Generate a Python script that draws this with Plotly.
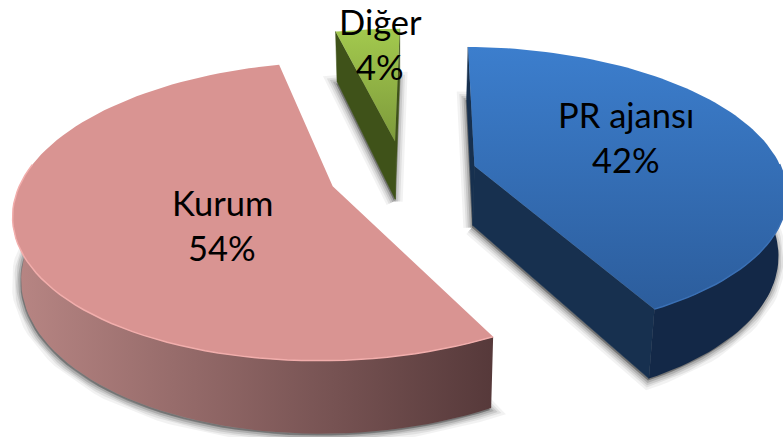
import numpy as np
import plotly.graph_objects as go

categories = ["PR ajansı", "Kurum", "Diğer"]
values = [42, 54, 4]

# pie drawing style
top_colors = [("#3c7ecd", "#2c5d9c"), ("#d99492", "#d99492"), ("#a3c94e", "#7d9a3b")]
wall_colors = [("#132847", "#132847"), ("#b88684", "#56393a"), ("#3f5219", "#3f5219")]
cut_colors = ["#17304f", "#5a3a3a", "#3f5219"]
rim_colors = ["#3a70b5", "#f2aeac", "#a3c94e"]
label_angle = [67, 232, 356]
label_radius = [0.565, 0.415, 0.85]

START = 0.8
CX, CY, R, TILT, PERSP, PULL, DEPTH, SHRINK = 403, 174, 309, 0.457, 0.165, 0.24, 60, 0.978
W, H = 783, 437


def project(X, Y, drop=False):
    X, Y = np.asarray(X, float), np.asarray(Y, float)
    w = 1 + PERSP * Y
    px = CX + R * X / w
    py = CY - R * TILT * Y / w
    if drop:
        px = CX + SHRINK * (px - CX)
        py = py + DEPTH / w
    return px, py


def sector(a0, a1, n=90):
    th = np.radians(np.linspace(a0, a1, n))
    return np.sin(th), np.cos(th)


def poly(x, y, **kw):
    return go.Scatter(x=x, y=y, mode="lines", fill="toself", hoverinfo="skip",
                      showlegend=False, **kw)


def close(a):
    return np.append(a, a[0])


total = sum(values)
angles = np.cumsum([0] + values) / total * 360 + START

slices = []
for i in range(len(values)):
    a0, a1 = angles[i], angles[i + 1]
    mid = np.radians((a0 + a1) / 2)
    ox, oy = PULL * np.sin(mid), PULL * np.cos(mid)
    ax, ay = sector(a0, a1)
    wx = np.concatenate([[ox], ox + ax])
    wy = np.concatenate([[oy], oy + ay])
    slices.append(dict(ox=ox, oy=oy, ax=ox + ax, ay=oy + ay, wx=wx, wy=wy, mid=mid))

fig = go.Figure()

# soft shadows under each slice
for s in slices:
    bx, by = project(s["wx"], s["wy"], drop=True)
    for width, alpha in [(17, 0.05), (12, 0.07), (8, 0.10), (4, 0.14)]:
        fig.add_trace(poly(close(bx) - 1, close(by) + 2,
                           line=dict(color=f"rgba(0,0,0,{alpha})", width=width),
                           fillcolor=f"rgba(0,0,0,{alpha})"))

# walls
for i, s in enumerate(slices):
    if i != 1:
        for ex, ey in [(s["ax"][0], s["ay"][0]), (s["ax"][-1], s["ay"][-1])]:
            x0, y0 = project([s["ox"], ex], [s["oy"], ey])
            x1, y1 = project([s["ox"], ex], [s["oy"], ey], drop=True)
            fig.add_trace(poly(close(np.r_[x0, x1[::-1]]), close(np.r_[y0, y1[::-1]]),
                               line=dict(color=cut_colors[i], width=0.5),
                               fillcolor=cut_colors[i]))
    mask = (s["ay"] < 0.1)
    if mask.sum() > 1:
        x0, y0 = project(s["ax"][mask], s["ay"][mask])
        x1, y1 = project(s["ax"][mask], s["ay"][mask], drop=True)
        c0, c1 = wall_colors[i]
        fig.add_trace(poly(close(np.r_[x0, x1[::-1]]), close(np.r_[y0, y1[::-1]]),
                           line=dict(color="rgba(0,0,0,0)", width=0),
                           fillgradient=dict(type="horizontal",
                                             colorscale=[[0, c0], [1, c1]])))

# top faces
for i, s in enumerate(slices):
    tx, ty = project(s["wx"], s["wy"])
    c0, c1 = top_colors[i]
    fig.add_trace(poly(close(tx), close(ty),
                       line=dict(color="rgba(0,0,0,0)", width=0),
                       fillgradient=dict(type="vertical",
                                         colorscale=[[0, c1], [1, c0]])))
    mask = s["ay"] < 0.1
    if mask.sum() > 1:
        rx, ry = project(s["ax"][mask], s["ay"][mask])
        fig.add_trace(go.Scatter(x=rx, y=ry, mode="lines", hoverinfo="skip", showlegend=False,
                                 line=dict(color=rim_colors[i], width=1.5)))

# labels
for i, s in enumerate(slices):
    la = np.radians(label_angle[i])
    lx = s["ox"] + label_radius[i] * np.sin(la)
    ly = s["oy"] + label_radius[i] * np.cos(la)
    px, py = project([lx], [ly])
    fig.add_annotation(x=px[0], y=py[0], xref="x", yref="y", showarrow=False,
                       text=f"{categories[i]}", yshift=22,
                       font=dict(family="Lato, Carlito, sans-serif", size=34.5, color="#000"))
    fig.add_annotation(x=px[0], y=py[0], xref="x", yref="y", showarrow=False,
                       text=f"{values[i]}%", yshift=-23,
                       font=dict(family="Lato, Carlito, sans-serif", size=34.5, color="#000"))

fig.update_layout(
    width=W, height=H, margin=dict(l=0, r=0, t=0, b=0),
    paper_bgcolor="white", plot_bgcolor="white", showlegend=False,
    xaxis=dict(range=[0, W], visible=False, fixedrange=True),
    yaxis=dict(range=[H, 0], visible=False, fixedrange=True),
)
fig.write_html("out.html", config=dict(displayModeBar=False),
               post_script="document.body.style.margin='0';document.documentElement.style.overflow='hidden';")
